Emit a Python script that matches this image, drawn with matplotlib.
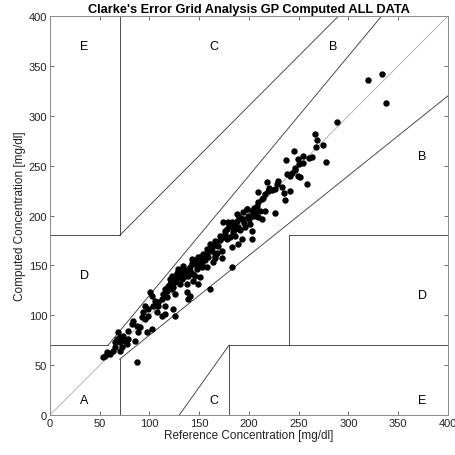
"""Clarke error grid for computed vs reference glucose."""
import matplotlib
matplotlib.use("Agg")
import matplotlib.pyplot as plt  # noqa: E402

plt.rcParams["font.family"] = ["Liberation Sans", "DejaVu Sans"]

# reference (x) and computed (y) concentrations, mg/dl
ref = [
    53.6, 55.3, 57.0, 60.3, 63.7, 65.3, 65.3, 67.0, 68.7, 70.4, 70.4, 70.4, 72.0,
    73.7, 75.4, 77.0, 78.7, 78.7, 82.1, 83.7, 85.4, 87.1, 87.1, 88.8, 90.5,
    92.1, 93.8, 95.5, 95.5, 97.2, 98.8, 98.8, 100.5, 102.2, 102.2, 103.8, 105.5,
    107.2, 108.9, 108.9, 112.2, 112.2, 113.9, 115.6, 115.6, 115.6, 117.3, 118.9,
    120.6, 122.3, 122.3, 123.9, 125.6, 125.6, 125.6, 127.3, 129.0, 130.7, 132.3,
    132.3, 134.0, 135.7, 137.4, 137.4, 139.0, 139.0, 140.7, 140.7, 142.4, 144.1,
    145.7, 145.7, 147.4, 149.1, 149.1, 150.8, 152.4, 152.4, 154.1, 157.5, 157.5,
    159.1, 160.8, 160.8, 162.5, 164.2, 165.8, 165.8, 165.8, 169.2, 170.9, 172.5,
    172.5, 174.2, 175.9, 177.6, 179.2, 182.6, 182.6, 182.6, 184.2, 185.9, 185.9,
    187.6, 189.3, 189.3, 192.6, 192.6, 194.3, 196.0, 197.7, 199.3, 201.0, 202.7,
    202.7, 202.7, 204.3, 206.0, 209.4, 209.4, 209.4, 211.1, 212.7, 212.7, 216.1,
    216.1, 217.8, 219.4, 226.1, 226.1, 227.8, 229.5, 232.8, 235.5, 236.2, 237.9,
    241.2, 241.2,
    118, 121, 124, 127, 128, 131, 133, 134, 136, 138, 141, 143, 144, 146, 148,
    150, 151, 153, 155, 156, 158, 161, 163, 167, 168, 171, 174, 176, 178, 180,
    181, 183, 186, 188, 190, 191, 194, 195, 198, 200, 205, 207, 208, 214, 220, 223,
    237.5, 243.2, 245.2, 246.0, 246.2, 249.2, 249.5, 250.0, 251.3, 254.3, 254.6,
    258.6, 260.6, 263.0, 266.6, 267.6, 268.7, 274.7, 277.4, 288.8, 319.6, 333.7,
    337.7,
]
comp = [
    57.8, 59.5, 62.8, 61.2, 64.5, 72.9, 67.9, 76.2, 82.9, 77.9, 72.9, 64.5, 67.9,
    79.5, 74.5, 71.2, 84.5, 76.2, 91.2, 94.6, 74.5, 89.5, 52.8, 82.9, 87.9,
    97.9, 102.9, 109.6, 96.2, 82.9, 106.3, 99.6, 123.0, 119.6, 86.2, 109.6, 114.6,
    102.9, 113.0, 109.6, 116.3, 99.6, 121.3, 126.3, 109.6, 101.3, 118.0, 129.7,
    136.3, 139.7, 126.3, 106.3, 133.0, 121.3, 99.6, 139.7, 146.4, 131.3, 143.0,
    136.3, 149.7, 143.0, 131.3, 123.0, 139.7, 116.3, 148.0, 119.6, 156.4, 134.7,
    151.4, 139.7, 146.4, 158.1, 131.3, 138.0, 154.7, 148.0, 161.4, 166.4, 148.0,
    158.1, 171.4, 126.3, 164.8, 153.1, 174.8, 159.7, 157.1, 169.8, 179.8, 164.8,
    157.1, 193.2, 181.5, 176.4, 193.2, 188.2, 168.1, 148.0, 183.1, 191.5, 179.8,
    201.5, 188.2, 171.4, 196.5, 176.4, 203.2, 188.2, 206.5, 199.8, 191.5, 204.8,
    184.8, 176.4, 199.8, 203.2, 223.2, 213.2, 198.2, 204.8, 216.5, 196.5, 221.6,
    204.8, 233.3, 224.9, 226.6, 202.5, 231.6, 234.9, 228.2, 222.6, 215.9, 241.6,
    239.9, 224.9,
    124, 131, 128, 135, 142, 138, 140, 146, 139, 145, 144, 152, 141, 155, 150,
    152, 158, 150, 160, 155, 162, 166, 168, 170, 162, 175, 178, 184, 186, 190,
    178, 193, 186, 194, 199, 185, 197, 192, 207, 197, 208, 200, 210, 218, 228, 226,
    256.0, 242.6, 265.0, 248.0, 245.6, 240.0, 256.6, 252.0, 238.3, 253.0, 259.6,
    231.3, 257.3, 258.6, 282.0, 269.0, 276.0, 270.4, 253.3, 293.4, 336.0, 341.5,
    312.8,
]

# Clarke zone boundaries: (x pair, y pair)
zone_lines = [
    ([0, 175 / 3], [70, 70]),
    ([175 / 3, 400 / 1.2], [70, 400]),
    ([70, 70], [180, 400]),
    ([0, 70], [180, 180]),
    ([70, 290], [180, 400]),
    ([70, 70], [0, 56]),
    ([70, 400], [56, 320]),
    ([180, 180], [0, 70]),
    ([180, 400], [70, 70]),
    ([240, 240], [70, 180]),
    ([240, 400], [180, 180]),
    ([130, 180], [0, 70]),
]
zone_labels = [
    (30, 15, "A"), (370, 260, "B"), (280, 370, "B"), (160, 370, "C"), (160, 15, "C"),
    (30, 140, "D"), (370, 120, "D"), (30, 370, "E"), (370, 15, "E"),
]

fig = plt.figure(figsize=(4.56, 4.56), dpi=100)
ax = fig.add_axes([0.1096, 0.0877, 0.8728, 0.875])

ax.plot([0, 400], [0, 400], color="#b4b4b4", lw=0.7)
for xs, ys in zone_lines:
    ax.plot(xs, ys, color="#333333", lw=0.6)
ax.plot(ref, comp, "o", color="k", ms=4.6, mew=0)

for x, y, s in zone_labels:
    ax.text(x, y, s, fontsize=9, ha="left", va="center")

ax.set_xlim(0, 400)
ax.set_ylim(0, 400)
ax.set_xticks(range(0, 401, 50))
ax.set_yticks(range(0, 401, 50))
ax.tick_params(direction="in", top=True, right=True, labelsize=8, length=3,
               width=0.6, color="#555555", labelcolor="#222222", pad=2)
for sp in ax.spines.values():
    sp.set_color("#8a8a8a")
    sp.set_linewidth(0.7)
ax.set_xlabel("Reference Concentration [mg/dl]", fontsize=8.5, labelpad=1, color="#222222")
ax.set_ylabel("Computed Concentration [mg/dl]", fontsize=8.5, labelpad=2, color="#222222")
ax.set_title("Clarke's Error Grid Analysis GP Computed ALL DATA",
             fontsize=9.2, fontweight="bold", pad=3)

fig.savefig("out.png", dpi=100)
plt.close(fig)
